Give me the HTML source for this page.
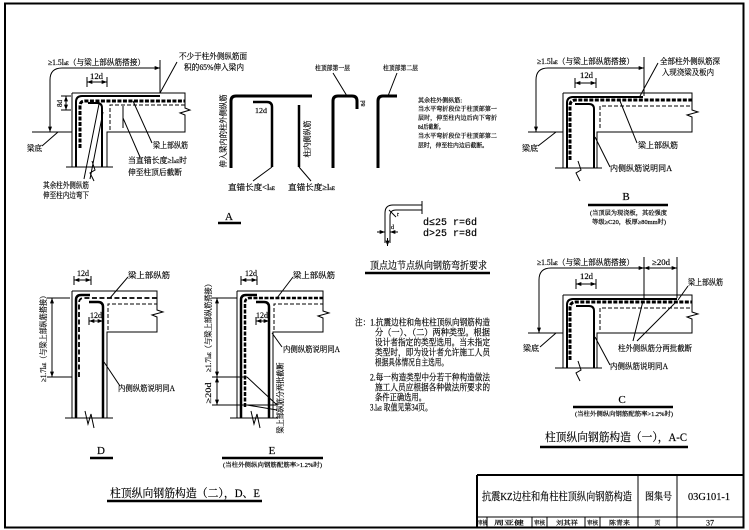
<!DOCTYPE html>
<html><head><meta charset="utf-8"><style>
html,body{margin:0;padding:0;background:#fff;}
svg{display:block;}
text{font-family:"Liberation Serif","Noto Serif CJK SC",serif;fill:#000;stroke:#000;stroke-width:0.18;}
.m{font-family:"Liberation Mono","Noto Serif CJK SC",monospace;}
</style></head><body>
<svg width="749" height="530" viewBox="0 0 749 530" xmlns="http://www.w3.org/2000/svg">
<defs>
<marker id="ar" viewBox="0 0 8 6" refX="8" refY="3" markerWidth="6" markerHeight="4" orient="auto-start-reverse" markerUnits="userSpaceOnUse"><path d="M0,0 L8,3 L0,6 z" fill="#000"/></marker>
</defs>
<rect x="0" y="0" width="749" height="530" fill="#fff"/>
<rect x="5" y="3.5" width="738.5" height="524" fill="none" stroke="#000" stroke-width="2"/>

<g stroke="#000" fill="none" stroke-width="1">
<!-- ===== Figure A left ===== -->
<path d="M72,93 V167 M72,93 H185 V108 L190,110 L180,113 L185,115 V132 H107 V167 M66,167 H113 M32,132 H72"/>
<path d="M92,161 L95,170 L90,173 L94,181"/>
<path d="M76,167 V102 Q76,96 82,96 H160" stroke-width="2"/>
<path d="M80,148 V106 Q80,101 85,101 H185" stroke-width="3" stroke-dasharray="4 1.5"/>
<path d="M102,167 V108 Q102,103 97,103 H88" stroke-width="2"/>
<path d="M110,130 V105 H185" stroke-dasharray="4 2"/>
<path d="M123,106 V128"/>
<path d="M50,132 V80 Q50,68 62,68 H160" marker-start="url(#ar)" marker-end="url(#ar)"/>
<path d="M160,60 V93"/>
<path d="M87,77 V87 M107,77 V87"/>
<path d="M87,82 H107" marker-start="url(#ar)" marker-end="url(#ar)"/>
<path d="M61,96 H71 M61,110 H71"/>
<path d="M66,96 V110" marker-start="url(#ar)" marker-end="url(#ar)"/>
<path d="M177,62 L160,93 M152,143 L133,101 M140,157 L123,118 M84,179 L99,104 M90,179 L103,112 M42,146 L58,132"/>

<!-- ===== Figure A right ===== -->
<path d="M231,168 V101 Q231,96 236,96 H312" stroke-width="3"/>
<path d="M272,167 V107 Q272,102 267,102 H253" stroke-width="2.5"/>
<path d="M299,105 V167" stroke-width="2.5"/>
<path d="M272,167 L253,181 M299,167 L311,181"/>
<path d="M333,168 V101 Q333,96 338,96 H352 Q357,96 357,101 V109" stroke-width="3"/>
<path d="M378,168 V101 Q378,96 383,96 H397" stroke-width="3"/>
<path d="M333,73 L347,96 M397,73 L388,96"/>
<path d="M218,223 H241" stroke-width="2.5"/>

<!-- bend detail -->
<path d="M385,243 V213 Q385,205 393,205 H422"/>
<path d="M390,243 V216 Q390,210 396,210 H422"/>
<path d="M422,201 V214"/>
<path d="M377,232 H385" marker-end="url(#ar)"/>
<path d="M398,232 H390" marker-end="url(#ar)"/>
<path d="M396,217 L389,210"/>
<path d="M387.5,238 V246" marker-end="url(#ar)"/>
<path d="M365,273 H490" stroke-width="2.5"/>

<!-- ===== Figure B ===== -->
<path d="M563,93 V168 M563,93 H692 V110 L698,112 L687,115 L692,117 V132 H597 V168 M555,168 H602 M528,132 H563"/>
<path d="M578,161 L581,170 L576,173 L580,181"/>
<path d="M567,168 V103 Q567,97 573,97 H643" stroke-width="2"/>
<path d="M570,160 V106 Q570,100 576,100 H692" stroke-width="3" stroke-dasharray="4 1.5"/>
<path d="M594,168 V109 Q594,104 589,104 H575" stroke-width="2"/>
<path d="M600,128 V106 H692" stroke-dasharray="4 2"/>
<path d="M536,132 V80 Q536,68 548,68 H644" marker-start="url(#ar)" marker-end="url(#ar)"/>
<path d="M644,57 V96"/>
<path d="M575,78 V88 M596,78 V88"/>
<path d="M575,83 H596" marker-start="url(#ar)" marker-end="url(#ar)"/>
<path d="M658,63 L640,96 M637,143 L620,101 M610,167 L595,137 M538,146 L556,132"/>
<path d="M588,205 H668" stroke-width="2.5"/>

<!-- ===== Figure C ===== -->
<path d="M563,295 V368 M563,295 H692 V312 L698,314 L687,317 L692,319 V333 H597 V368 M555,368 H602 M528,333 H563"/>
<path d="M578,361 L581,370 L576,373 L580,381"/>
<path d="M567,368 V305 Q567,299 573,299 H677" stroke-width="2"/>
<path d="M570,360 V308 Q570,302 576,302 H692" stroke-width="3" stroke-dasharray="4 1.5"/>
<path d="M594,368 V311 Q594,306 589,306 H576" stroke-width="2"/>
<path d="M600,330 V308 H692" stroke-dasharray="4 2"/>
<path d="M539,333 V280 Q539,268 551,268 H644" marker-start="url(#ar)" marker-end="url(#ar)"/>
<path d="M644,268 H677" marker-start="url(#ar)" marker-end="url(#ar)"/>
<path d="M644,257 V298 M677,257 V298"/>
<path d="M576,279 V289 M596,279 V289"/>
<path d="M576,284 H596" marker-start="url(#ar)" marker-end="url(#ar)"/>
<path d="M688,286 L678,300 M633,341 L643,301 M637,341 L677,301 M610,365 L595,337 M540,347 L556,333"/>
<path d="M573,407 H673" stroke-width="2.5"/>
<path d="M540,447 H688" stroke-width="2.5"/>

<!-- ===== Figure D ===== -->
<path d="M72,291 V418 M72,291 H157 V310 L163,312 L152,315 L157,317 V332 H107 V418 M65,418 H113"/>
<path d="M85,411 L88,424 L91,414 L94,428"/>
<path d="M76,418 V300 Q76,295 81,295 H90" stroke-width="2.5"/>
<path d="M79,377 V303 Q79,298 84,298 H157" stroke-width="1.8" stroke-dasharray="5 2.5"/>
<path d="M103,418 V307 Q103,302 98,302 H89" stroke-width="2.5"/>
<path d="M108,330 V304 H157" stroke-dasharray="4 2"/>
<path d="M74,276 V285 M91,276 V285"/>
<path d="M74,280 H91" marker-start="url(#ar)" marker-end="url(#ar)"/>
<path d="M89,317 V325 M103,317 V325"/>
<path d="M89,321 H103" marker-start="url(#ar)" marker-end="url(#ar)"/>
<path d="M52,298 V377" marker-start="url(#ar)" marker-end="url(#ar)"/>
<path d="M47,298 H70 M47,377 H72"/>
<path d="M128,277 L110,298 M120,386 L104,362"/>
<path d="M90,458 H113" stroke-width="2.5"/>

<!-- ===== Figure E ===== -->
<path d="M237,291 V418 M237,291 H323 V311 L329,313 L318,316 L323,318 V332 H273 V418 M230,418 H278"/>
<path d="M251,411 L254,424 L257,414 L260,428"/>
<path d="M241,418 V300 Q241,295 246,295 H257" stroke-width="2.5"/>
<path d="M245,407 V303 Q245,298 250,298 H323" stroke-width="2.5" stroke-dasharray="4 1.5"/>
<path d="M269,418 V307 Q269,302 264,302 H256" stroke-width="2.5"/>
<path d="M274,330 V304 H323" stroke-dasharray="4 2"/>
<path d="M241,276 V285 M257,276 V285"/>
<path d="M241,280 H257" marker-start="url(#ar)" marker-end="url(#ar)"/>
<path d="M256,317 V325 M269,317 V325"/>
<path d="M256,321 H269" marker-start="url(#ar)" marker-end="url(#ar)"/>
<path d="M217,298 V377" marker-start="url(#ar)" marker-end="url(#ar)"/>
<path d="M217,377 V405" marker-start="url(#ar)" marker-end="url(#ar)"/>
<path d="M212,298 H237 M212,377 H247 M212,405 H278"/>
<path d="M293,277 L277,298 M282,347 L272,333 M277,405 L247,377 M277,410 L247,405"/>
<path d="M222,458 H323" stroke-width="2.5"/>

<path d="M107,501 H262" stroke-width="2.5"/>

<!-- ===== Title block ===== -->
<path d="M477,475 H744 M477,475 V528" stroke-width="2"/>
<path d="M477,517 H744 M638,475 V528 M677,475 V528"/>
<path d="M487,517 V528 M532,517 V528 M547,517 V528 M585,517 V528 M600,517 V528"/>
</g>

<!-- ===== TEXT ===== -->
<g font-size="8">
<!-- A -->
<text x="48" y="65" textLength="97" lengthAdjust="spacingAndGlyphs">≥1.5l<tspan font-size="5">aE</tspan>（与梁上部纵筋搭接）</text>
<text x="179" y="59" textLength="68" lengthAdjust="spacingAndGlyphs">不少于柱外侧纵筋面</text>
<text x="184" y="70" textLength="60" lengthAdjust="spacingAndGlyphs">积的65%伸入梁内</text>
<text x="90" y="79" textLength="13" lengthAdjust="spacingAndGlyphs">12d</text>
<text transform="translate(59,103) rotate(-90)" x="-4" y="3" font-size="7">8d</text>
<text x="153" y="148" textLength="35" lengthAdjust="spacingAndGlyphs">梁上部纵筋</text>
<text x="128" y="163" textLength="59" lengthAdjust="spacingAndGlyphs">当直锚长度≥l<tspan font-size="5">aE</tspan>时</text>
<text x="128" y="175" textLength="54" lengthAdjust="spacingAndGlyphs">伸至柱顶后截断</text>
<text x="43" y="188" textLength="46" lengthAdjust="spacingAndGlyphs">其余柱外侧纵筋</text>
<text x="43" y="198" textLength="46" lengthAdjust="spacingAndGlyphs">伸至柱内边弯下</text>
<text x="27" y="151" textLength="15" lengthAdjust="spacingAndGlyphs">梁底</text>

<!-- A right -->
<text transform="translate(223,131) rotate(-90)" x="-36.5" y="3" textLength="73" lengthAdjust="spacingAndGlyphs">伸入梁内的柱外侧纵筋</text>
<text x="255" y="113" font-size="7" textLength="12" lengthAdjust="spacingAndGlyphs">12d</text>
<text transform="translate(307,139) rotate(-90)" x="-18.5" y="3" textLength="37" lengthAdjust="spacingAndGlyphs">柱内侧纵筋</text>
<text x="228" y="190" textLength="47" lengthAdjust="spacingAndGlyphs">直锚长度&lt;l<tspan font-size="5">aE</tspan></text>
<text x="288" y="190" textLength="47" lengthAdjust="spacingAndGlyphs">直锚长度≥l<tspan font-size="5">aE</tspan></text>
<text x="229" y="220" font-size="11" text-anchor="middle">A</text>
<text x="315" y="70" font-size="6.5" textLength="35" lengthAdjust="spacingAndGlyphs">柱顶部第一层</text>
<text x="383" y="70" font-size="6.5" textLength="35" lengthAdjust="spacingAndGlyphs">柱顶部第二层</text>
<text transform="translate(363,103) rotate(-90)" x="-3.5" y="2" font-size="6">8d</text>
<g font-size="6">
<text x="418" y="102.5" textLength="44" lengthAdjust="spacingAndGlyphs">其余柱外侧纵筋:</text>
<text x="418" y="111" textLength="79" lengthAdjust="spacingAndGlyphs">当水平弯折段位于柱顶部第一</text>
<text x="418" y="120" textLength="79" lengthAdjust="spacingAndGlyphs">层时，伸至柱内边后向下弯折</text>
<text x="418" y="129" textLength="26" lengthAdjust="spacingAndGlyphs">8d后截断。</text>
<text x="418" y="138" textLength="79" lengthAdjust="spacingAndGlyphs">当水平弯折段位于柱顶部第二</text>
<text x="418" y="147.5" textLength="70" lengthAdjust="spacingAndGlyphs">层时，伸至柱内边后截断。</text>
</g>
<!-- bend -->
<text class="m" x="423" y="225" font-size="10" textLength="54" lengthAdjust="spacingAndGlyphs">d≤25 r=6d</text>
<text class="m" x="423" y="236" font-size="10" textLength="54" lengthAdjust="spacingAndGlyphs">d&gt;25 r=8d</text>
<text x="391" y="229" font-size="6">d</text>
<text x="397" y="216" font-size="6">r</text>
<text x="370" y="269" font-size="10" textLength="117" lengthAdjust="spacingAndGlyphs">顶点边节点纵向钢筋弯折要求</text>

<!-- B -->
<text x="537" y="64" textLength="97" lengthAdjust="spacingAndGlyphs">≥1.5l<tspan font-size="5">aE</tspan>（与梁上部纵筋搭接）</text>
<text x="660" y="64" textLength="60" lengthAdjust="spacingAndGlyphs">全部柱外侧纵筋深</text>
<text x="662" y="75" textLength="52" lengthAdjust="spacingAndGlyphs">入现浇梁及板内</text>
<text x="580" y="78" textLength="13" lengthAdjust="spacingAndGlyphs">12d</text>
<text x="638" y="148" textLength="40" lengthAdjust="spacingAndGlyphs">梁上部纵筋</text>
<text x="610" y="171" textLength="62" lengthAdjust="spacingAndGlyphs">内侧纵筋说明同A</text>
<text x="522" y="151" textLength="16" lengthAdjust="spacingAndGlyphs">梁底</text>
<text x="626" y="200" font-size="11" text-anchor="middle">B</text>
<text x="590" y="215" font-size="6" textLength="77" lengthAdjust="spacingAndGlyphs">(当顶层为现浇板，其砼强度</text>
<text x="592" y="224" font-size="6" textLength="74" lengthAdjust="spacingAndGlyphs">等级≥C20，板厚≥80mm时)</text>

<!-- C -->
<text x="537" y="265" textLength="97" lengthAdjust="spacingAndGlyphs">≥1.5l<tspan font-size="5">aE</tspan>（与梁上部纵筋搭接）</text>
<text x="652" y="265" textLength="18" lengthAdjust="spacingAndGlyphs">≥20d</text>
<text x="580" y="279" textLength="13" lengthAdjust="spacingAndGlyphs">12d</text>
<text x="688" y="285" textLength="35" lengthAdjust="spacingAndGlyphs">梁上部纵筋</text>
<text x="618" y="351" textLength="74" lengthAdjust="spacingAndGlyphs">柱外侧纵筋分两批截断</text>
<text x="610" y="369" textLength="58" lengthAdjust="spacingAndGlyphs">内侧纵筋说明同A</text>
<text x="523" y="351" textLength="16" lengthAdjust="spacingAndGlyphs">梁底</text>
<text x="622" y="403" font-size="11" text-anchor="middle">C</text>
<text x="575" y="416" font-size="6" textLength="98" lengthAdjust="spacingAndGlyphs">(当柱外侧纵向钢筋配筋率&gt;1.2%时)</text>
<text x="545" y="441" font-size="11.5" textLength="142" lengthAdjust="spacingAndGlyphs">柱顶纵向钢筋构造（一），A-C</text>

<!-- D -->
<text x="77" y="276" textLength="12" lengthAdjust="spacingAndGlyphs">12d</text>
<text x="128" y="278" textLength="42" lengthAdjust="spacingAndGlyphs">梁上部纵筋</text>
<text x="90" y="318" textLength="12" lengthAdjust="spacingAndGlyphs">12d</text>
<text transform="translate(43,337) rotate(-90)" x="-45" y="3" textLength="90" lengthAdjust="spacingAndGlyphs">≥1.7l<tspan font-size="5">aE</tspan>（与梁上部纵筋搭接）</text>
<text x="118" y="391" textLength="57" lengthAdjust="spacingAndGlyphs">内侧纵筋说明同A</text>
<text x="101" y="454" font-size="11" text-anchor="middle">D</text>

<!-- E -->
<text x="245" y="276" textLength="12" lengthAdjust="spacingAndGlyphs">12d</text>
<text x="293" y="278" textLength="42" lengthAdjust="spacingAndGlyphs">梁上部纵筋</text>
<text x="256" y="318" textLength="12" lengthAdjust="spacingAndGlyphs">12d</text>
<text transform="translate(208,326) rotate(-90)" x="-46" y="3" textLength="92" lengthAdjust="spacingAndGlyphs">≥1.7l<tspan font-size="5">aE</tspan>（与梁上部纵筋搭接）</text>
<text transform="translate(208,393) rotate(-90)" x="-10.5" y="3" textLength="21" lengthAdjust="spacingAndGlyphs">≥20d</text>
<text x="283" y="352" textLength="57" lengthAdjust="spacingAndGlyphs">内侧纵筋说明同A</text>
<text transform="translate(280,398) rotate(-90)" x="-35.5" y="3" textLength="71" lengthAdjust="spacingAndGlyphs">梁上部纵筋分两批截断</text>
<text x="272" y="454" font-size="11" text-anchor="middle">E</text>
<text x="223" y="467" font-size="6" textLength="99" lengthAdjust="spacingAndGlyphs">(当柱外侧纵向钢筋配筋率&gt;1.2%时)</text>
<text x="110" y="497" font-size="11.5" textLength="150" lengthAdjust="spacingAndGlyphs">柱顶纵向钢筋构造（二），D、E</text>

<!-- Notes -->
<g font-size="9">
<text x="355" y="325.5" textLength="135" lengthAdjust="spacingAndGlyphs">注：1.抗震边柱和角柱柱顶纵向钢筋构造</text>
<text x="375" y="335.5" textLength="115" lengthAdjust="spacingAndGlyphs">分（一）、（二）两种类型。根据</text>
<text x="375" y="345.5" textLength="115" lengthAdjust="spacingAndGlyphs">设计者指定的类型选用。当未指定</text>
<text x="375" y="355.5" textLength="115" lengthAdjust="spacingAndGlyphs">类型时，即为设计者允许施工人员</text>
<text x="375" y="365.5" textLength="73" lengthAdjust="spacingAndGlyphs">根据具体情况自主选用。</text>
<text x="370" y="380.5" textLength="120" lengthAdjust="spacingAndGlyphs">2.每一构造类型中分若干种构造做法</text>
<text x="375" y="390.5" textLength="115" lengthAdjust="spacingAndGlyphs">施工人员应根据各种做法所要求的</text>
<text x="375" y="400.5" textLength="51" lengthAdjust="spacingAndGlyphs">条件正确选用。</text>
<text x="370" y="410.5" textLength="62" lengthAdjust="spacingAndGlyphs">3.l<tspan font-size="6">aE</tspan> 取值见第34页。</text>
</g>

<!-- Title block -->
<text x="482" y="500" font-size="11" textLength="150" lengthAdjust="spacingAndGlyphs">抗震KZ边柱和角柱柱顶纵向钢筋构造</text>
<text x="645" y="500" font-size="10" textLength="27" lengthAdjust="spacingAndGlyphs">图集号</text>
<text x="688" y="500" font-size="11" textLength="42" lengthAdjust="spacingAndGlyphs">03G101-1</text>
<g font-size="6">
<text x="478" y="525" textLength="9" lengthAdjust="spacingAndGlyphs">审核</text>
<text x="494" y="525" textLength="30" lengthAdjust="spacingAndGlyphs">周亚健</text>
<text x="534" y="525" textLength="11" lengthAdjust="spacingAndGlyphs">审核</text>
<text x="556" y="525" textLength="22" lengthAdjust="spacingAndGlyphs">刘其祥</text>
<text x="587" y="525" textLength="11" lengthAdjust="spacingAndGlyphs">审核</text>
<text x="609" y="525" textLength="21" lengthAdjust="spacingAndGlyphs">陈青来</text>
<text x="657.5" y="525" text-anchor="middle">页</text>
<text x="710" y="525.5" font-size="8" text-anchor="middle">37</text>
</g>
</g>
</svg>
</body></html>
